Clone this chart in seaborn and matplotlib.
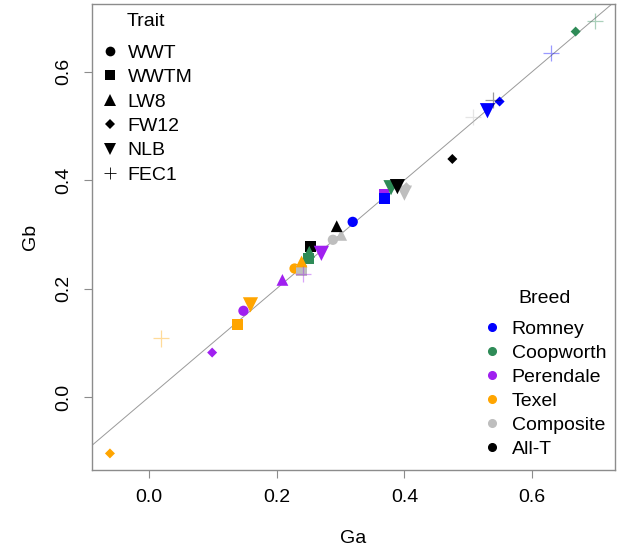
import numpy as np
import pandas as pd
import matplotlib
matplotlib.use('Agg')
import matplotlib.pyplot as plt
from matplotlib.lines import Line2D
import seaborn as sns

# ---- data ----
traits = ['WWT', 'WWTM', 'LW8', 'FW12', 'NLB', 'FEC1']
breeds = ['Romney', 'Coopworth', 'Perendale', 'Texel', 'Composite', 'All-T']
breed_colors = ['#0000FF', '#2E8B57', '#A020F0', '#FFA500', '#BEBEBE', '#000000']

point_trait = ['WWT', 'WWT', 'WWT', 'WWT',
               'WWTM', 'WWTM', 'WWTM', 'WWTM', 'WWTM', 'WWTM',
               'LW8', 'LW8', 'LW8', 'LW8', 'LW8',
               'FW12', 'FW12', 'FW12', 'FW12', 'FW12', 'FW12',
               'NLB', 'NLB', 'NLB', 'NLB', 'NLB', 'NLB',
               'FEC1', 'FEC1', 'FEC1', 'FEC1', 'FEC1', 'FEC1']
point_breed = ['Romney', 'Perendale', 'Texel', 'Composite',
               'Perendale', 'Romney', 'Coopworth', 'Texel', 'Composite', 'All-T',
               'Coopworth', 'Perendale', 'Texel', 'Composite', 'All-T',
               'Romney', 'Coopworth', 'Perendale', 'Texel', 'Composite', 'All-T',
               'Romney', 'Coopworth', 'Perendale', 'Texel', 'Composite', 'All-T',
               'Romney', 'Coopworth', 'Perendale', 'Texel', 'Composite', 'All-T']
ga = [0.319, 0.148, 0.228, 0.288,
      0.368, 0.369, 0.250, 0.139, 0.239, 0.253,
      0.251, 0.209, 0.239, 0.301, 0.294,
      0.549, 0.668, 0.099, -0.061, 0.403, 0.475,
      0.530, 0.379, 0.270, 0.159, 0.400, 0.389,
      0.629, 0.698, 0.241, 0.019, 0.508, 0.539]
gb = [0.323, 0.159, 0.237, 0.290,
      0.373, 0.366, 0.255, 0.133, 0.234, 0.277,
      0.268, 0.216, 0.250, 0.299, 0.315,
      0.545, 0.674, 0.082, -0.104, 0.387, 0.439,
      0.528, 0.386, 0.265, 0.170, 0.376, 0.388,
      0.634, 0.694, 0.227, 0.108, 0.516, 0.548]

df = pd.DataFrame({'Trait': point_trait, 'Breed': point_breed, 'Ga': ga, 'Gb': gb})
pal = dict(zip(breeds, breed_colors))

# marker style per trait
markers = ['o', 's', '^', 'D', 'v', '+']
sizes = [55, 62, 72, 26, 120, 135]

sns.set_style('white')
plt.rcParams['font.family'] = ['Liberation Sans', 'DejaVu Sans']
plt.rcParams['text.color'] = 'black'
plt.rcParams['axes.labelcolor'] = 'black'
plt.rcParams['xtick.labelcolor'] = 'black'
plt.rcParams['ytick.labelcolor'] = 'black'

fig = plt.figure(figsize=(6.19, 5.48), dpi=100)
ax = fig.add_axes([0.148, 0.1423, 0.8455, 0.8504])

ax.axline((0, 0), slope=1, color='#9a9a9a', lw=0.7, zorder=1)

for t, m, s in zip(traits, markers, sizes):
    sub = df[df['Trait'] == t]
    if m == '+':
        sns.scatterplot(data=sub, x='Ga', y='Gb', hue='Breed', palette=pal, marker=m,
                        s=s, linewidth=0.9, alpha=0.4, legend=False, ax=ax, zorder=3)
    else:
        sns.scatterplot(data=sub, x='Ga', y='Gb', hue='Breed', palette=pal, marker=m,
                        s=s, linewidth=0, legend=False, ax=ax, zorder=3)

ax.set_xlim(-0.0897, 0.7296)
ax.set_ylim(-0.1346, 0.7248)
ax.set_xticks([0.0, 0.2, 0.4, 0.6])
ax.set_yticks([0.0, 0.2, 0.4, 0.6])
ax.set_xticklabels(['0.0', '0.2', '0.4', '0.6'])
ax.set_yticklabels(['0.0', '0.2', '0.4', '0.6'], rotation=90, va='center')
ax.tick_params(axis='both', length=6, width=0.8, color='#8c8c8c', labelsize=14, pad=8,
               bottom=True, left=True, labelcolor='black')
for sp in ax.spines.values():
    sp.set_color('#8c8c8c')
    sp.set_linewidth(1.0)
ax.set_xlabel('Ga', fontsize=14, labelpad=17, color='black')
ax.set_ylabel('Gb', fontsize=14, labelpad=12, color='black')

# legends
leg_ms = [7, 6.5, 8, 5, 9, 9]
trait_handles = [Line2D([], [], marker=m, color='black', linestyle='None', markersize=ms,
                        markeredgewidth=(0.6 if m == '+' else 0))
                 for m, ms in zip(markers, leg_ms)]
leg1 = ax.legend(trait_handles, traits, title='Trait', loc='upper left', frameon=False,
                 fontsize=14, title_fontsize=14, handletextpad=0.43, labelspacing=0.35,
                 handlelength=1.0, borderpad=0, borderaxespad=0,
                 bbox_to_anchor=(0.016, 0.965), labelcolor='black')
leg1.get_title().set_position((0, 7))
leg1.get_title().set_color('black')
ax.add_artist(leg1)

breed_handles = [Line2D([], [], marker='o', color=c, linestyle='None', markersize=5.5)
                 for c in breed_colors]
leg2 = ax.legend(breed_handles, breeds, title='Breed', loc='lower right', frameon=False,
                 fontsize=14, title_fontsize=14, handletextpad=0.5, labelspacing=0.33,
                 handlelength=1.0, borderpad=0, borderaxespad=0,
                 bbox_to_anchor=(0.983, 0.026), labelcolor='black')
leg2.get_title().set_position((0, 7))
leg2.get_title().set_color('black')

fig.savefig('out.png', dpi=100)
